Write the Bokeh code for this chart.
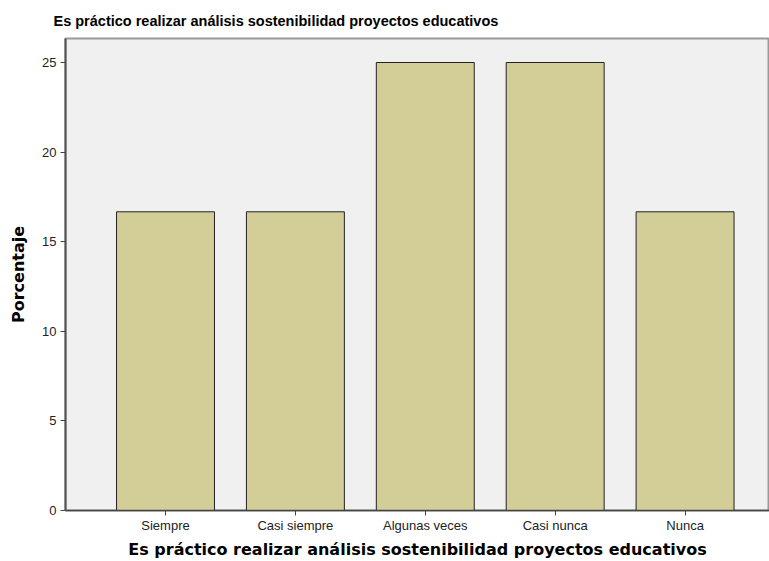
from bokeh.plotting import figure
from bokeh.models import ColumnDataSource, Range1d, FixedTicker
from bokeh.embed import file_html
from bokeh.resources import INLINE

categories = ["Siempre", "Casi siempre", "Algunas veces", "Casi nunca", "Nunca"]
percentages = [16.67, 16.67, 25.0, 25.0, 16.67]
y_ticks = [0, 5, 10, 15, 20, 25]
title_text = "Es práctico realizar análisis sostenibilidad proyectos educativos"

xs = list(range(len(categories)))
src = ColumnDataSource(dict(x=xs, y=percentages, cat=categories))

p = figure(width=769, height=561,
           x_range=Range1d(-0.77, 4.65), y_range=Range1d(0, 26.34),
           output_backend="svg", toolbar_location=None,
           min_border_left=65, min_border_right=0,
           min_border_top=38, min_border_bottom=51,
           background_fill_color="#F0F0F0", border_fill_color="white")

p.vbar(x="x", top="y", width=0.754, source=src,
       fill_color="#D3CE97", line_color="#222222", line_width=1)

p.outline_line_color = "#999999"
p.outline_line_width = 2
p.xgrid.visible = False
p.ygrid.visible = False

p.title.text = title_text
p.title.align = "left"
p.title.vertical_align = "bottom"
p.title.offset = -12
p.title.text_font = "Liberation Sans"
p.title.text_font_size = "14.5px"
p.title.text_font_style = "bold"
p.title.text_color = "black"
p.title.standoff = 20

ya = p.yaxis[0]
ya.ticker = FixedTicker(ticks=y_ticks)
ya.minor_tick_line_color = None
ya.major_tick_out = 5
ya.major_tick_in = 0
ya.major_tick_line_color = "#444444"
ya.axis_line_color = "#555555"
ya.axis_line_width = 2
ya.major_label_text_font = "Liberation Sans"
ya.major_label_text_font_size = "13px"
ya.major_label_text_color = "#222222"
ya.major_label_standoff = 4
ya.axis_label = "Porcentaje"
ya.axis_label_text_font = "DejaVu Sans"
ya.axis_label_text_font_style = "bold"
ya.axis_label_text_font_size = "16px"
ya.axis_label_text_color = "black"
ya.axis_label_standoff = 11

xa = p.xaxis[0]
xa.ticker = FixedTicker(ticks=xs)
xa.major_label_overrides = {i: c for i, c in zip(xs, categories)}
xa.minor_tick_line_color = None
xa.major_tick_out = 5
xa.major_tick_in = 0
xa.major_tick_line_color = "#444444"
xa.axis_line_color = "#444444"
xa.axis_line_width = 1.5
xa.major_label_text_font = "Liberation Sans"
xa.major_label_text_font_size = "13px"
xa.major_label_text_color = "#222222"
xa.major_label_standoff = 2
xa.axis_label = title_text
xa.axis_label_text_font = "DejaVu Sans"
xa.axis_label_text_font_style = "bold"
xa.axis_label_text_font_size = "16px"
xa.axis_label_text_color = "black"
xa.axis_label_standoff = 4

open("out.html", "w").write(file_html(p, INLINE))
